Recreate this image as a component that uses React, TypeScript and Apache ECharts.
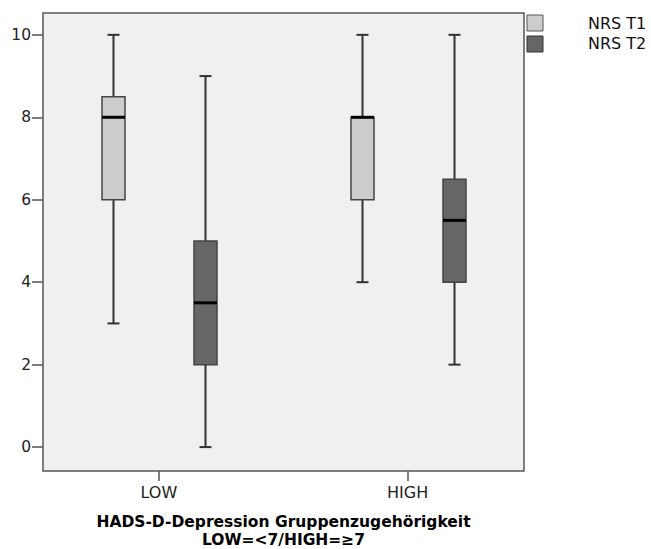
import React, { useEffect, useRef } from "react";
import * as echarts from "echarts";

const categories = ["LOW", "HIGH"];
const seriesNames = ["NRS T1", "NRS T2"];
// [min, Q1, median, Q3, max] per category
const nrsT1 = [
  [3, 6, 8, 8.5, 10],
  [4, 6, 8, 8, 10],
];
const nrsT2 = [
  [0, 2, 3.5, 5, 9],
  [2, 4, 5.5, 6.5, 10],
];
const yTicks = [0, 2, 4, 6, 8, 10];
const xTitle = "HADS-D-Depression Gruppenzugehörigkeit\nLOW=<7/HIGH=≥7";

const fills = ["#cccccc", "#666666"];
const offsets = [-0.185, 0.185];
const FONT = "DejaVu Sans";

function makeSeries(idx: number, values: number[][]) {
  return {
    type: "custom",
    name: seriesNames[idx],
    data: values.map((v, i) => [i, ...v]),
    renderItem: (params: any, api: any) => {
      const xv = api.value(0) + offsets[idx];
      const pMin = api.coord([xv, api.value(1)]);
      const pQ1 = api.coord([xv, api.value(2)]);
      const pMed = api.coord([xv, api.value(3)]);
      const pQ3 = api.coord([xv, api.value(4)]);
      const pMax = api.coord([xv, api.value(5)]);
      const cx = Math.round(pMin[0]) + 0.5;
      const bw = 23;
      const cap = 12;
      const lineStyle = { stroke: "#333333", lineWidth: 2 };
      return {
        type: "group",
        children: [
          { type: "line", shape: { x1: cx, y1: pMax[1], x2: cx, y2: pQ3[1] }, style: lineStyle },
          { type: "line", shape: { x1: cx, y1: pQ1[1], x2: cx, y2: pMin[1] }, style: lineStyle },
          { type: "line", shape: { x1: cx - cap / 2, y1: pMax[1], x2: cx + cap / 2, y2: pMax[1] }, style: lineStyle },
          { type: "line", shape: { x1: cx - cap / 2, y1: pMin[1], x2: cx + cap / 2, y2: pMin[1] }, style: lineStyle },
          {
            type: "rect",
            shape: { x: cx - bw / 2, y: pQ3[1], width: bw, height: pQ1[1] - pQ3[1] },
            style: { fill: fills[idx], stroke: "#444444", lineWidth: 1.5 },
          },
          {
            type: "line",
            shape: { x1: cx - bw / 2, y1: pMed[1], x2: cx + bw / 2, y2: pMed[1] },
            style: { stroke: "#000000", lineWidth: 3 },
          },
        ],
      };
    },
  };
}

export default function App() {
  const ref = useRef<HTMLDivElement>(null);
  useEffect(() => {
    if (!ref.current) return;
    const chart = echarts.init(ref.current, null, { renderer: "svg" });
    chart.setOption({
      animation: false,
      backgroundColor: "#ffffff",
      textStyle: { fontFamily: FONT },
      grid: {
        left: 43,
        right: 127,
        top: 13,
        bottom: 78,
        outerBoundsMode: "none",
        containLabel: false,
        show: true,
        backgroundColor: "#f0f0f0",
        borderColor: "#555555",
        borderWidth: 1.5,
      },
      xAxis: {
        type: "value",
        min: -0.466,
        max: 1.468,
        axisLine: { show: false, onZero: false },
        splitLine: { show: false },
        axisTick: {
          show: true,
          length: 10,
          customValues: [0, 1],
          lineStyle: { color: "#555555", width: 1.5 },
        },
        axisLabel: {
          customValues: [0, 1],
          formatter: (v: number) => categories[Math.round(v)] ?? "",
          color: "#222222",
          fontSize: 16,
          fontFamily: FONT,
          margin: 13,
        },
        name: xTitle,
        nameLocation: "middle",
        nameGap: 42,
        nameTextStyle: {
          fontWeight: "bold",
          fontSize: 15.5,
          color: "#000000",
          fontFamily: FONT,
          lineHeight: 18,
        },
      },
      yAxis: {
        type: "value",
        min: -0.58,
        max: 10.53,
        axisLine: { show: false, onZero: false },
        splitLine: { show: false },
        axisTick: {
          show: true,
          length: 11,
          customValues: yTicks,
          lineStyle: { color: "#555555", width: 1.5 },
        },
        axisLabel: {
          customValues: yTicks,
          color: "#222222",
          fontSize: 15.5,
          fontFamily: FONT,
          margin: 12,
        },
      },
      graphic: [
        { type: "rect", shape: { x: 527, y: 15, width: 16, height: 16 }, style: { fill: fills[0], stroke: "#555555", lineWidth: 1 } },
        { type: "rect", shape: { x: 527, y: 36, width: 16, height: 16 }, style: { fill: fills[1], stroke: "#333333", lineWidth: 1 } },
        { type: "text", x: 588, y: 23, style: { text: seriesNames[0], fill: "#111111", font: `16px "${FONT}"`, textVerticalAlign: "middle" } },
        { type: "text", x: 588, y: 43, style: { text: seriesNames[1], fill: "#111111", font: `16px "${FONT}"`, textVerticalAlign: "middle" } },
      ],
      series: [makeSeries(0, nrsT1), makeSeries(1, nrsT2)],
    });
    return () => chart.dispose();
  }, []);
  return (
    <div
      ref={ref}
      style={{ position: "fixed", left: 0, top: 0, width: 651, height: 549 }}
    />
  );
}
